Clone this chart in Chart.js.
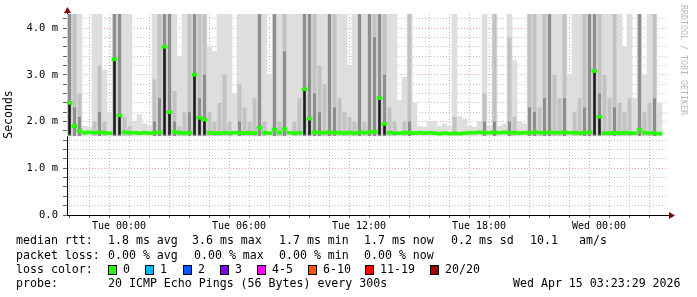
<!DOCTYPE html>
<html>
<head>
<meta charset="utf-8">
<script src="https://cdn.jsdelivr.net/npm/chart.js@4.4.1/dist/chart.umd.min.js"></script>
<style>
  html, body { margin: 0; padding: 0; background: #fff; }
  #wrap { width: 697px; height: 297px; }
</style>
</head>
<body>
<div id="wrap"><canvas id="rtt" width="697" height="297"></canvas></div>
<script>
// 15 minute columns, hours relative to Tue 00:00
const startHour = -2.6;
const stepHours = 0.25;

// median rtt (ms)
const median = [
  2.40, 1.90, 1.80, 1.76, 1.77, 1.76, 1.77, 1.76, 1.75, 3.33,
  2.13, 1.77, 1.76, 1.76, 1.75, 1.76, 1.75, 1.76, 1.77, 3.60,
  2.20, 1.78, 1.76, 1.75, 1.76, 3.00, 2.08, 2.04, 1.76, 1.75,
  1.75, 1.76, 1.75, 1.76, 1.76, 1.75, 1.76, 1.75, 1.87, 1.76,
  1.75, 1.83, 1.76, 1.84, 1.76, 1.75, 1.76, 2.69, 2.06, 1.77,
  1.76, 1.76, 1.77, 1.76, 1.76, 1.75, 1.76, 1.75, 1.77, 1.76,
  1.77, 1.78, 2.50, 1.95, 1.76, 1.75, 1.75, 1.76, 1.76, 1.75,
  1.76, 1.75, 1.76, 1.75, 1.74, 1.75, 1.74, 1.75, 1.74, 1.75,
  1.76, 1.76, 1.77, 1.76, 1.76, 1.77, 1.76, 1.77, 1.76, 1.76,
  1.75, 1.76, 1.76, 1.77, 1.76, 1.76, 1.77, 1.76, 1.76, 1.77,
  1.76, 1.76, 1.75, 1.76, 1.77, 3.08, 2.10, 1.75, 1.75, 1.76,
  1.75, 1.76, 1.75, 1.75, 1.83, 1.76, 1.75, 1.75, 1.74
];

// smoke tops (ms): lightest layer
const smokeLight = [
  4.3, 4.3, 4.3, 1.90, 1.88, 4.3, 4.3, 3.1, 2.2, 4.3,
  4.3, 4.3, 4.3, 2.0, 2.15, 1.95, 1.9, 4.3, 4.3, 4.3,
  4.3, 4.3, 3.4, 4.3, 4.3, 4.3, 4.3, 4.3, 3.6, 3.5,
  4.3, 4.3, 4.3, 2.6, 4.3, 4.3, 4.3, 4.3, 4.3, 4.3,
  3.0, 4.3, 4.3, 4.3, 4.3, 4.3, 4.3, 4.3, 4.3, 4.3,
  4.3, 4.3, 4.3, 4.3, 4.3, 4.3, 3.2, 4.3, 4.3, 4.3,
  4.3, 4.3, 4.3, 4.3, 4.3, 4.3, 2.45, 2.95, 4.3, 2.4,
  1.9, 1.88, 2.0, 2.0, 1.9, 1.95, 1.9, 4.3, 2.1, 2.05,
  1.9, 1.88, 2.0, 4.3, 1.9, 4.3, 1.9, 1.95, 4.3, 3.3,
  2.0, 1.95, 4.3, 4.3, 4.3, 4.3, 4.3, 4.3, 4.3, 4.3,
  3.0, 4.3, 4.3, 4.3, 4.3, 4.3, 4.3, 4.3, 4.3, 4.3,
  4.3, 3.6, 4.3, 2.5, 4.3, 3.0, 4.3, 4.3, 2.4
];

// medium grey layer
const smokeMid = [
  4.3, 4.3, 2.6, null, null, 2.0, 3.2, 2.0, null, 4.3,
  4.3, 2.1, 1.9, null, null, null, null, 2.9, 4.3, 4.3,
  4.3, 2.65, 1.9, 2.2, 4.3, 4.3, 4.3, 4.3, 2.2, 2.0,
  2.4, 3.0, 2.0, null, 2.8, 2.3, 2.0, 2.5, 4.3, 2.0,
  null, 4.3, 2.0, 4.3, null, 2.0, 2.5, 4.3, 4.3, 4.3,
  3.2, 2.8, 4.3, 4.3, 2.5, 2.2, 2.1, 2.0, 4.3, 2.0,
  4.3, 4.3, 4.3, 4.3, 2.3, 2.0, null, 2.0, 4.3, null,
  null, null, null, null, null, null, null, 2.1, null, null,
  null, null, null, 2.6, null, 4.3, null, null, 3.8, 2.1,
  null, null, 4.3, 4.3, 2.3, 4.3, 4.3, 3.0, 2.5, 4.3,
  null, 2.2, 2.5, 4.3, 4.3, 4.3, 4.3, 3.0, 2.5, 4.3,
  2.4, 2.2, 2.5, null, 4.3, 2.2, 2.4, 4.3, null
];

// dark grey layer
const smokeDark = [
  4.3, 2.3, 2.1, null, null, null, 2.2, null, null, 4.3,
  4.3, null, null, null, null, null, null, 2.0, 2.5, 4.3,
  4.3, 2.0, null, null, 2.2, 4.3, 2.5, 3.0, null, null,
  null, null, null, null, 2.0, null, null, null, 4.3, null,
  null, 4.3, null, 3.5, null, null, null, 4.3, 4.3, 2.6,
  2.2, null, 4.3, 2.3, null, null, null, null, 4.3, null,
  4.3, 3.8, 4.3, 3.0, null, null, null, null, 2.0, null,
  null, null, null, null, null, null, null, null, null, null,
  null, null, null, 2.0, null, 2.0, null, null, 2.0, null,
  null, null, 2.3, 2.2, null, 2.5, 4.3, null, null, 2.5,
  null, null, null, 2.3, 4.3, 4.3, 2.6, null, null, 2.3,
  null, null, null, null, 4.3, null, null, 2.5, null
];

// near-black core under median spikes
const smokeCore = [
  2.40, null, null, null, null, null, null, null, null, 3.33,
  2.13, null, null, null, null, null, null, null, null, 3.60,
  2.20, null, null, null, null, 3.00, 2.08, 2.04, null, null,
  null, null, null, null, null, null, null, null, null, null,
  null, null, null, null, null, null, null, 2.69, 2.06, null,
  null, null, null, null, null, null, null, null, null, null,
  null, null, 2.50, 1.95, null, null, null, null, null, null,
  null, null, null, null, null, null, null, null, null, null,
  null, null, null, null, null, null, null, null, null, null,
  null, null, null, null, null, null, null, null, null, null,
  null, null, null, null, null, 3.08, 2.10, null, null, null,
  null, null, null, null, null, null, null, null, null
];

const smokeBase = 1.69;

const hourTicks = [-2, -1, 0, 1, 2, 3, 4, 5, 6, 7, 8, 9, 10, 11, 12, 13, 14, 15,
  16, 17, 18, 19, 20, 21, 22, 23, 24, 25, 26, 27];
const xTickLabels = { 0: 'Tue 00:00', 6: 'Tue 06:00', 12: 'Tue 12:00', 18: 'Tue 18:00', 24: 'Wed 00:00' };
const yMinorTicks = [0, 0.2, 0.4, 0.6, 0.8, 1, 1.2, 1.4, 1.6, 1.8, 2, 2.2, 2.4, 2.6, 2.8,
  3, 3.2, 3.4, 3.6, 3.8, 4, 4.2];
const yTickLabels = { 0: '0.0', 1: '1.0 m', 2: '2.0 m', 3: '3.0 m', 4: '4.0 m' };

const rttStats = ['1.8 ms avg', '3.6 ms max', '1.7 ms min', '1.7 ms now', '0.2 ms sd', '10.1', 'am/s'];
const lossStats = ['0.00 % avg', '0.00 % max', '0.00 % min', '0.00 % now'];
const lossLabels = ['0', '1', '2', '3', '4-5', '6-10', '11-19', '20/20'];
const lossColors = ['#26ff00', '#00b8ff', '#0059ff', '#7e00ff', '#ff00ff', '#ff5500', '#ff0000', '#a10000'];
const probeText = '20 ICMP Echo Pings (56 Bytes) every 300s';
const stampText = 'Wed Apr 15 03:23:29 2026';

const times = median.map((_, i) => startHour + stepHours * i + stepHours / 2);
const toBars = (tops, low) => tops.map((v, i) => ({ x: times[i], y: v === null ? null : [low, v] }));

const layer = (label, data, color, order, width) => ({
  type: 'bar', label, data, backgroundColor: color, borderWidth: 0,
  grouped: false, barPercentage: width, categoryPercentage: 1, order
});

const MONO = "'DejaVu Sans Mono', monospace";
const RED_GRID = 'rgba(230, 90, 90, 0.55)';
const GREY_GRID = 'rgba(120, 120, 120, 0.45)';

const decor = {
  id: 'decor',
  afterDraw(chart) {
    const { ctx, chartArea: a } = chart;
    ctx.save();
    // axis extensions + arrows
    ctx.strokeStyle = '#000';
    ctx.lineWidth = 1;
    ctx.beginPath();
    ctx.moveTo(a.left + 0.5, a.top);
    ctx.lineTo(a.left + 0.5, 12);
    ctx.moveTo(a.right, a.bottom + 0.5);
    ctx.lineTo(670, a.bottom + 0.5);
    ctx.stroke();
    ctx.fillStyle = '#8b0000';
    ctx.beginPath();
    ctx.moveTo(a.left + 0.5, 7);
    ctx.lineTo(a.left - 3, 13);
    ctx.lineTo(a.left + 4, 13);
    ctx.closePath();
    ctx.fill();
    ctx.beginPath();
    ctx.moveTo(675, a.bottom + 0.5);
    ctx.lineTo(669, a.bottom - 3);
    ctx.lineTo(669, a.bottom + 4);
    ctx.closePath();
    ctx.fill();

    // watermark
    ctx.save();
    ctx.translate(683, 5);
    ctx.rotate(Math.PI / 2);
    ctx.fillStyle = '#b8b8b8';
    ctx.font = '8.3px ' + MONO;
    ctx.textBaseline = 'middle';
    ctx.fillText('RRDTOOL / TOBI OETIKER', 0, 0);
    ctx.restore();

    // legend block
    ctx.fillStyle = '#000';
    ctx.font = '11.6px ' + MONO;
    ctx.textBaseline = 'middle';
    ctx.fillText('median rtt:', 16, 241);
    [108, 192, 279, 364, 451, 530, 579].forEach((x, i) => ctx.fillText(rttStats[i], x, 241));
    ctx.fillText('packet loss:', 16, 256);
    [108, 194, 279, 364].forEach((x, i) => ctx.fillText(lossStats[i], x, 256));
    ctx.fillText('loss color:', 16, 270);
    const boxX = [108, 145, 183, 220, 257, 308, 365, 430];
    lossLabels.forEach((t, i) => {
      ctx.fillStyle = lossColors[i];
      ctx.fillRect(boxX[i] + 0.5, 265.5, 8, 9);
      ctx.strokeStyle = '#000';
      ctx.strokeRect(boxX[i] + 0.5, 265.5, 8, 9);
      ctx.fillStyle = '#000';
      ctx.fillText(t, boxX[i] + 15, 270);
    });
    ctx.fillText('probe:', 16, 284);
    ctx.fillText(probeText, 108, 284);
    ctx.fillText(stampText, 513, 284);
    ctx.restore();
  }
};

new Chart(document.getElementById('rtt'), {
  type: 'bar',
  data: {
    datasets: [
      layer('median', median.map((m, i) => ({ x: times[i], y: [m - 0.032, m + 0.032] })), '#26ff00', 0, 1),
      layer('core', toBars(smokeCore, 1.72), '#1e1e1e', 1, 0.5),
      layer('dark', toBars(smokeDark, smokeBase), '#8e8e8e', 2, 0.6),
      layer('mid', toBars(smokeMid, smokeBase), '#c2c2c2', 3, 0.8),
      layer('light', toBars(smokeLight, smokeBase), '#dedede', 4, 1)
    ]
  },
  options: {
    responsive: false,
    animation: false,
    devicePixelRatio: 1,
    events: [],
    layout: { padding: { top: 14, right: 30, left: 0, bottom: 0 } },
    plugins: { legend: { display: false }, tooltip: { enabled: false } },
    scales: {
      x: {
        type: 'linear',
        min: -2.6,
        max: 27.4,
        offset: false,
        afterBuildTicks: s => { s.ticks = hourTicks.map(v => ({ value: v })); },
        afterFit: s => { s.height = 82; },
        ticks: {
          autoSkip: false, maxRotation: 0, padding: 2, color: '#000',
          font: { family: MONO, size: 10 },
          callback: v => xTickLabels[v] || ''
        },
        grid: {
          color: c => (c.tick && c.tick.value % 3 === 0) ? RED_GRID : GREY_GRID,
          tickLength: 3, tickColor: '#666', tickBorderDash: []
        },
        border: { color: '#000', dash: [1, 2] }
      },
      y: {
        min: 0,
        max: 4.3,
        afterBuildTicks: s => { s.ticks = yMinorTicks.map(v => ({ value: v })); },
        afterFit: s => { s.width = 67; },
        ticks: {
          autoSkip: false, padding: 5, color: '#000',
          font: { family: MONO, size: 10.5 },
          callback: v => yTickLabels[Math.round(v * 10) / 10] || ''
        },
        grid: {
          color: c => {
            const v = c.tick ? Math.round(c.tick.value * 10) : 1;
            return (v % 10 === 0 && v > 0) ? RED_GRID : GREY_GRID;
          },
          tickLength: 4, tickColor: '#666', tickBorderDash: []
        },
        border: { color: '#000', dash: [1, 2] },
        title: { display: true, text: 'Seconds', color: '#000', font: { family: MONO, size: 11.5 }, padding: 2 }
      }
    }
  },
  plugins: [decor]
});
</script>
</body>
</html>
